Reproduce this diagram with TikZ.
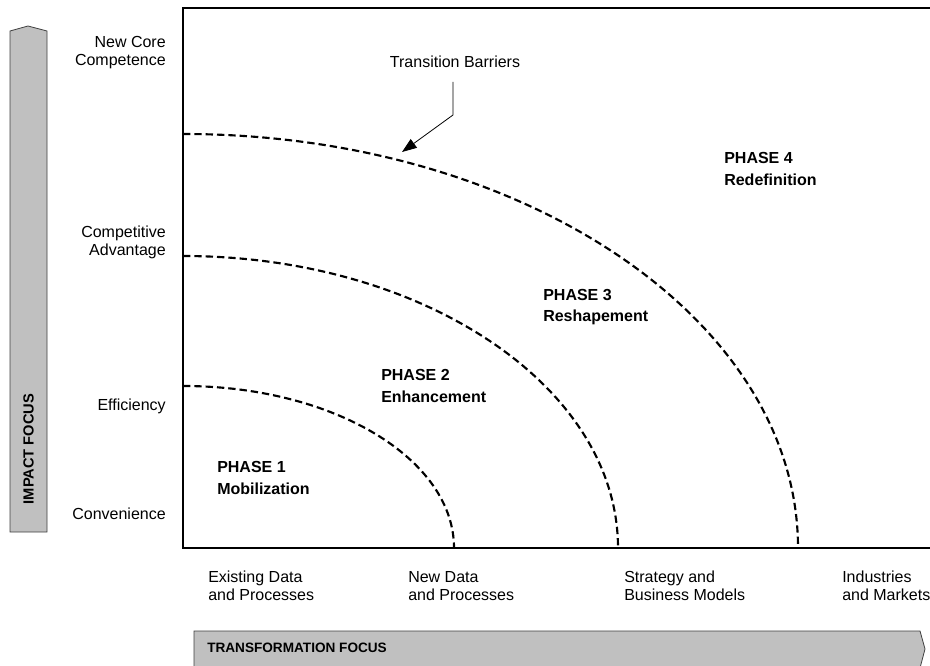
\documentclass[tikz,border=0pt]{standalone}
\usepackage{fontspec}
\setmainfont{Liberation Sans}
\usetikzlibrary{arrows.meta}
\definecolor{bandgray}{HTML}{C0C0C0}
\definecolor{bandedge}{HTML}{404040}
\tikzset{
  axisline/.style={line width=1.9pt},
  barrier/.style={line width=1.6pt, dash pattern=on 5.5pt off 3pt},
  band/.style={fill=bandgray, draw=bandedge, line width=0.6pt},
  bandtext/.style={font=\bfseries\fontsize{10.2}{12}\selectfont, inner sep=0pt},
  ylab/.style={font=\fontsize{12}{13.5}\selectfont, align=right, anchor=east, inner sep=0pt},
  xlab/.style={font=\fontsize{12}{13.5}\selectfont, align=left, anchor=west, inner sep=0pt},
  phaselab/.style={font=\bfseries\fontsize{12}{16.2}\selectfont, align=left, anchor=west, inner sep=0pt},
  callout/.style={line width=0.6pt, -{Triangle[length=11pt,width=8pt]}}
}
\begin{document}
\begin{tikzpicture}[x=0.75pt,y=-0.75pt]
\useasboundingbox (0,0) rectangle (930,666);
% vertical band
\draw[band] (10,31) -- (28,26) -- (47,31) -- (47,532) -- (10,532) -- cycle;
\node[bandtext, font=\bfseries\fontsize{11}{12}\selectfont, rotate=90] (impact) at (28.5,449) {IMPACT FOCUS};
% horizontal band
\draw[band] (194,668) -- (194,631) -- (920,631) -- (925,649) -- (920,668);
\node[bandtext, anchor=west] (transf) at (207,648) {TRANSFORMATION FOCUS};
% frame
\draw[axisline] (930,8) -- (183,8) -- (183,548) -- (930,548);
% barriers
\draw[barrier] (183,386) arc[start angle=-90, end angle=0, x radius=271, y radius=162];
\draw[barrier] (183,256) arc[start angle=-90, end angle=0, x radius=435, y radius=292];
\draw[barrier] (183,134) arc[start angle=-90, end angle=0, x radius=615, y radius=414];
% y labels
\node[ylab] (ncc) at (166,53) {New Core\\Competence};
\node[ylab] (ca) at (166,242) {Competitive\\Advantage};
\node[ylab] (eff) at (166,406) {Efficiency};
\node[ylab] (conv) at (166,514) {Convenience};
% x labels
\node[xlab] (edp) at (208,586) {Existing Data\\and Processes};
\node[xlab] (ndp) at (408,586) {New Data\\and Processes};
\node[xlab] (sbm) at (624,586) {Strategy and\\Business Models};
\node[xlab] (im) at (842,586) {Industries\\and Markets};
% phases
\node[phaselab] (p4) at (724,169) {PHASE 4\\Redefinition};
\node[phaselab] (p3) at (543,307) {PHASE 3\\Reshapement};
\node[phaselab] (p2) at (381,386) {PHASE 2\\Enhancement};
\node[phaselab] (p1) at (217,478) {PHASE 1\\Mobilization};
% callout
\node[font=\fontsize{12}{13.5}\selectfont, inner sep=0pt] (tb) at (455,62) {Transition Barriers};
\coordinate (tbtop) at (453,82);
\coordinate (tbbend) at (453,115);
\coordinate (tbtip) at (402,152);
\draw[callout] (tbtop) -- (tbbend) -- (tbtip);
\end{tikzpicture}
\end{document}
